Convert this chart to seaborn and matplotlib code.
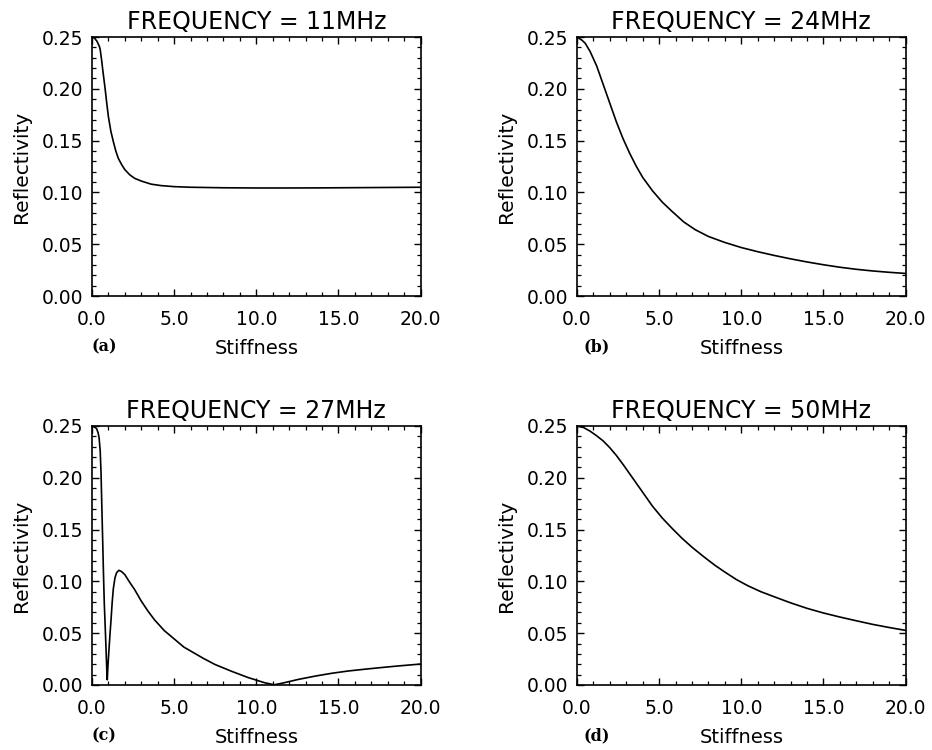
import matplotlib
matplotlib.use("Agg")
import matplotlib.pyplot as plt
from matplotlib.ticker import MultipleLocator, FormatStrFormatter
import seaborn as sns

# values (stiffness -> reflectivity)
a_x = [0.0, 0.15, 0.3, 0.45, 0.5, 0.55, 0.6, 0.65, 0.8, 0.9, 1.0, 1.15, 1.3, 1.45, 1.6, 1.8,
       2.0, 2.3, 2.6, 3.0, 3.6, 4.2, 5.0, 6.0, 8.0, 10.0, 12.0, 14.0, 16.0, 18.0, 20.0]
a_y = [0.250, 0.249, 0.246, 0.241, 0.238, 0.232, 0.226, 0.219, 0.200, 0.186, 0.173, 0.159,
       0.149, 0.140, 0.133, 0.127, 0.122, 0.117, 0.1136, 0.111, 0.108, 0.1066, 0.1056,
       0.1050, 0.1045, 0.1043, 0.1043, 0.1044, 0.1046, 0.1048, 0.1050]

b_x = [0.0, 0.3, 0.5, 0.8, 1.2, 1.6, 2.0, 2.4, 2.8, 3.2, 3.6, 4.0, 4.6, 5.2, 5.8, 6.5, 7.2,
       8.0, 9.0, 10.0, 11.0, 12.0, 13.0, 14.0, 15.0, 16.0, 17.0, 18.0, 19.0, 20.0]
b_y = [0.250, 0.247, 0.244, 0.236, 0.222, 0.204, 0.186, 0.168, 0.152, 0.138, 0.1255,
       0.1145, 0.1015, 0.0905, 0.0815, 0.0715, 0.064, 0.0575, 0.0517, 0.0468, 0.0428,
       0.0392, 0.0359, 0.0329, 0.0302, 0.0278, 0.0258, 0.0242, 0.0229, 0.0218]

c_x = [0.0, 0.15, 0.28, 0.37, 0.43, 0.5, 0.55, 0.6, 0.65, 0.7, 0.75, 0.8, 0.85, 0.9, 0.93,
       0.97, 1.03, 1.1, 1.16, 1.23, 1.3, 1.4, 1.5, 1.64, 1.8, 2.0, 2.3, 2.6, 3.0, 3.4, 3.8,
       4.4, 5.0, 5.6, 6.2, 6.8, 7.5, 8.5, 9.5, 10.5, 11.1, 11.6, 12.6, 13.6, 14.6, 15.6,
       16.6, 17.6, 18.6, 20.0]
c_y = [0.250, 0.249, 0.2475, 0.2435, 0.239, 0.226, 0.205, 0.172, 0.140, 0.107, 0.078, 0.058,
       0.037, 0.015, 0.005, 0.018, 0.033, 0.050, 0.063, 0.080, 0.093, 0.1035, 0.1085, 0.1107,
       0.1095, 0.1065, 0.099, 0.092, 0.081, 0.0715, 0.063, 0.0525, 0.0445, 0.0365, 0.031,
       0.0255, 0.0197, 0.0132, 0.0072, 0.0022, 0.0002, 0.0018, 0.0055, 0.0086, 0.0113,
       0.0135, 0.0152, 0.0168, 0.0183, 0.0202]

d_x = [0.0, 0.4, 0.8, 1.2, 1.6, 2.0, 2.4, 2.8, 3.2, 3.6, 4.0, 4.6, 5.2, 5.8, 6.4, 7.0, 7.7,
       8.4, 9.0, 9.7, 10.4, 11.2, 12.0, 13.0, 14.0, 15.0, 16.0, 17.0, 18.0, 19.0, 20.0]
d_y = [0.250, 0.2485, 0.245, 0.2405, 0.2355, 0.229, 0.2215, 0.213, 0.204, 0.195, 0.186,
       0.1725, 0.161, 0.151, 0.1415, 0.133, 0.124, 0.1155, 0.109, 0.1018, 0.0958, 0.0900,
       0.0852, 0.0793, 0.0740, 0.0695, 0.0656, 0.0620, 0.0585, 0.0555, 0.0527]

titles = ["FREQUENCY = 11MHz", "FREQUENCY = 24MHz", "FREQUENCY = 27MHz", "FREQUENCY = 50MHz"]
tags = ["(a)", "(b)", "(c)", "(d)"]

sns.set_style("ticks")
plt.rcParams['font.family'] = ['DejaVu Sans']
plt.rcParams['text.color'] = 'black'
plt.rcParams['axes.labelcolor'] = 'black'
plt.rcParams['xtick.color'] = 'black'
plt.rcParams['ytick.color'] = 'black'
plt.rcParams['xtick.direction'] = 'in'
plt.rcParams['ytick.direction'] = 'in'
plt.rcParams['xtick.top'] = True
plt.rcParams['ytick.right'] = True

fig = plt.figure(figsize=(9.32, 7.5), dpi=100)

# axes boxes in figure fractions: [left, bottom, width, height]
boxes = [[0.0987, 0.6053, 0.3525, 0.3453],
         [0.6191, 0.6053, 0.3525, 0.3453],
         [0.0987, 0.0867, 0.3525, 0.3453],
         [0.6191, 0.0867, 0.3525, 0.3453]]
series = [(a_x, a_y), (b_x, b_y), (c_x, c_y), (d_x, d_y)]

for i in range(4):
    ax = fig.add_axes(boxes[i])
    xs, ys = series[i]
    sns.lineplot(x=xs, y=ys, ax=ax, color='black', linewidth=1.2, sort=False, estimator=None)
    ax.set_xlim(0, 20)
    ax.set_ylim(0, 0.25)
    ax.xaxis.set_major_locator(MultipleLocator(5))
    ax.xaxis.set_minor_locator(MultipleLocator(1))
    ax.yaxis.set_major_locator(MultipleLocator(0.05))
    ax.yaxis.set_minor_locator(MultipleLocator(0.01))
    ax.xaxis.set_major_formatter(FormatStrFormatter('%.1f'))
    ax.yaxis.set_major_formatter(FormatStrFormatter('%.2f'))
    ax.tick_params(which='major', length=5, width=1, labelsize=13.5, colors='black')
    ax.tick_params(which='minor', length=2.8, width=0.9, top=True, right=True, colors='black')
    ax.tick_params(axis='x', which='major', pad=10)
    ax.tick_params(axis='y', which='major', pad=6)
    for s in ax.spines.values():
        s.set_linewidth(1.2)
        s.set_color('black')
    ax.set_title(titles[i], fontsize=17, pad=6, color='black')
    ax.set_xlabel('Stiffness', fontsize=14, labelpad=7)
    ax.set_ylabel('Reflectivity', fontsize=14.5, labelpad=8)
    ax.text(0.0 if i % 2 == 0 else 0.02, -0.215, tags[i], transform=ax.transAxes,
            ha='left', va='baseline', fontsize=11.5, fontweight='bold',
            family=['DejaVu Serif'], color='black')

fig.savefig('out.png', dpi=100)
